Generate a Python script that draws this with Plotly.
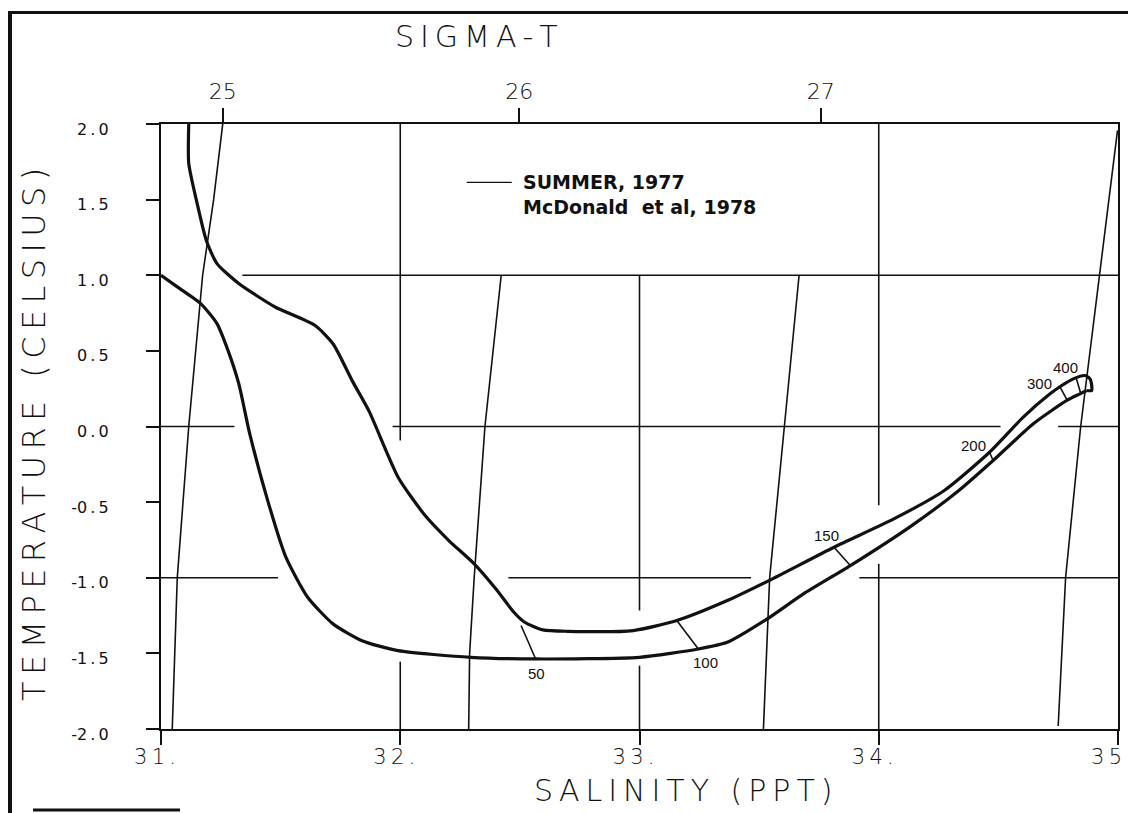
import plotly.graph_objects as go

# --- data (salinity ppt, temperature C) ---
upper_sal = [31.116, 31.116, 31.151, 31.189, 31.234, 31.325, 31.477, 31.643, 31.719,
             31.80, 31.87, 31.991, 32.104, 32.203, 32.309, 32.40, 32.475, 32.52,
             32.596, 32.70, 32.974, 33.156, 33.367, 33.541, 33.813, 34.063, 34.274,
             34.463, 34.604, 34.716, 34.765, 34.813, 34.862, 34.883, 34.890, 34.890, 34.869]
upper_temp = [2.0, 1.74, 1.475, 1.232, 1.077, 0.945, 0.79, 0.669, 0.547,
              0.30, 0.10, -0.335, -0.589, -0.754, -0.908, -1.074, -1.228, -1.294,
              -1.345, -1.354, -1.349, -1.283, -1.151, -1.019, -0.798, -0.611, -0.423,
              -0.170, 0.062, 0.216, 0.271, 0.315, 0.337, 0.315, 0.271, 0.238, 0.238]

lower_sal = [31.0, 31.068, 31.166, 31.234, 31.28, 31.325, 31.371, 31.446, 31.522,
             31.613, 31.719, 31.84, 31.991, 32.294, 32.566, 33.0, 33.246, 33.367,
             33.534, 33.685, 33.881, 34.138, 34.335, 34.478, 34.646, 34.786, 34.841, 34.869]
lower_temp = [1.0, 0.923, 0.812, 0.68, 0.503, 0.283, -0.049, -0.49, -0.864,
              -1.129, -1.305, -1.416, -1.482, -1.526, -1.537, -1.526, -1.471, -1.427,
              -1.272, -1.107, -0.92, -0.655, -0.423, -0.225, 0.018, 0.172, 0.216, 0.238]

# depth marks (m): end on upper curve, end on lower curve, label spot
depth_labels = ["50", "100", "150", "200", "300", "400"]
depth_sal_a = [32.505, 33.156, 33.813, 34.463, 34.758, 34.825]
depth_temp_a = [-1.316, -1.283, -0.798, -0.170, 0.260, 0.322]
depth_sal_b = [32.566, 33.246, 33.881, 34.478, 34.788, 34.844]
depth_temp_b = [-1.537, -1.471, -0.919, -0.225, 0.172, 0.220]
depth_label_sal = [32.569, 33.277, 33.783, 34.395, 34.671, 34.779]
depth_label_temp = [-1.636, -1.559, -0.721, -0.126, 0.282, 0.388]

# sigma-t isopycnals
sigma_labels = ["25", "26", "27"]
sigma_tick_sal = [31.258, 32.497, 33.758]
iso_sal = [
    [31.258, 31.22, 31.174, 31.116, 31.068, 31.047],
    [32.422, 32.354, 32.309, 32.29, 32.286],
    [33.667, 33.605, 33.544, 33.518],
    [34.998, 34.883, 34.844, 34.781, 34.75],
]
iso_temp = [
    [2.0, 1.5, 1.0, 0.0, -1.0, -2.0],
    [1.0, 0.0, -1.0, -1.5, -2.0],
    [1.0, 0.0, -1.0, -2.0],
    [1.958, 0.503, 0.0, -1.0, -1.98],
]

# broken grid lines: (temp, sal_from, sal_to) and (sal, temp_from, temp_to)
hgrid = [(1.0, 31.34, 35.0), (0.0, 31.0, 31.307), (0.0, 31.968, 34.509), (0.0, 34.75, 35.0),
         (-1.0, 31.0, 31.489), (-1.0, 32.452, 33.466), (-1.0, 33.919, 35.0)]
vgrid = [(32.0, 2.0, -0.093), (32.0, -1.555, -2.0), (33.0, 1.0, -1.217), (33.0, -1.581, -2.0),
         (34.0, 2.0, -0.52), (34.0, -0.908, -2.0)]

sal_ticks = [31, 32, 33, 34, 35]
sal_ticktext = ["3\u20091\u2009.", "3\u20092\u2009.", "3\u20093\u2009.", "3\u20094\u2009.",
                "3\u20095\u2009."]
temp_ticks = [-2.0, -1.5, -1.0, -0.5, 0.0, 0.5, 1.0, 1.5, 2.0]
temp_ticktext = ["-2\u2009.\u20090", "-1\u2009.\u20095", "-1\u2009.\u20090", "-0\u2009.\u20095",
                 "0\u2009.\u20090", "0\u2009.\u20095", "1\u2009.\u20090", "1\u2009.\u20095",
                 "2\u2009.\u20090"]

# the page body adds an 8px margin, so the figure is shrunk and shifted to fit
OFF = 8
W, H = 1136 - OFF, 813 - OFF
ML, MR, MT, MB = 161 - OFF, 18, 124 - OFF, 84
PW, PH = W - ML - MR, H - MT - MB
INK = "#111111"
PLOTTER = dict(family="DejaVu Sans", color=INK, weight=300)


def px_x(px):
    return (px - OFF - ML) / PW


def px_y(py):
    return (H - MB - (py - OFF)) / PH


def spaced(s):
    return "\u2009".join(s)


fig = go.Figure()

gx, gy = [], []
for t, s0, s1 in hgrid:
    gx += [s0, s1, None]
    gy += [t, t, None]
for s, t0, t1 in vgrid:
    gx += [s, s, None]
    gy += [t0, t1, None]
fig.add_trace(go.Scatter(x=gx, y=gy, mode="lines", line=dict(color=INK, width=1.6),
                         hoverinfo="skip", showlegend=False))

for xs, ys in zip(iso_sal, iso_temp):
    fig.add_trace(go.Scatter(x=xs, y=ys, mode="lines", line=dict(color=INK, width=1.6),
                             hoverinfo="skip", showlegend=False))

for xs, ys in [(upper_sal, upper_temp), (lower_sal, lower_temp)]:
    fig.add_trace(go.Scatter(x=xs, y=ys, mode="lines",
                             line=dict(color=INK, width=3.2, shape="spline", smoothing=0.6),
                             name="SUMMER, 1977", showlegend=False))

dx, dy = [], []
for a, b, c, d in zip(depth_sal_a, depth_temp_a, depth_sal_b, depth_temp_b):
    dx += [a, c, None]
    dy += [b, d, None]
fig.add_trace(go.Scatter(x=dx, y=dy, mode="lines", line=dict(color=INK, width=1.6),
                         hoverinfo="skip", showlegend=False))

# legend sample line
fig.add_trace(go.Scatter(x=[32.278, 32.466], y=[1.614, 1.614], mode="lines",
                         line=dict(color=INK, width=1.4), hoverinfo="skip", showlegend=False))

# top sigma-t axis
fig.add_trace(go.Scatter(x=[31, 35], y=[None, None], xaxis="x2", showlegend=False,
                         hoverinfo="skip"))

annotations = []
for lab, s, t in zip(depth_labels, depth_label_sal, depth_label_temp):
    annotations.append(dict(x=s, y=t, xref="x", yref="y", text=lab, showarrow=False,
                            xanchor="center", yanchor="middle",
                            font=dict(family="Liberation Sans", size=15, color=INK)))
annotations += [
    dict(x=32.504, y=1.614, xref="x", yref="y", text="SUMMER, 1977", xanchor="left",
         yanchor="middle", showarrow=False,
         font=dict(family="DejaVu Sans", size=19, color=INK, weight="bold")),
    dict(x=32.504, y=1.448, xref="x", yref="y", text="McDonald  et al, 1978", xanchor="left",
         yanchor="middle", showarrow=False,
         font=dict(family="DejaVu Sans", size=19, color=INK, weight="bold")),
    dict(x=px_x(476), y=px_y(37), xref="paper", yref="paper", text=spaced("SIGMA-T"),
         xanchor="center", yanchor="middle", showarrow=False, font=dict(PLOTTER, size=30)),
    dict(x=px_x(683), y=px_y(790), xref="paper", yref="paper", text=spaced("SALINITY (PPT)"),
         xanchor="center", yanchor="middle", showarrow=False, font=dict(PLOTTER, size=30)),
    dict(x=px_x(34), y=px_y(435), xref="paper", yref="paper", textangle=-90,
         xanchor="center", yanchor="middle",
         text=spaced("TEMPERATURE (CELSIUS)"), showarrow=False, font=dict(PLOTTER, size=32)),
]

shapes = [
    dict(type="line", xref="paper", yref="paper", x0=px_x(10), x1=px_x(10),
         y0=px_y(11), y1=px_y(813), line=dict(color=INK, width=4)),
    dict(type="line", xref="paper", yref="paper", x0=px_x(8), x1=px_x(1136),
         y0=px_y(12.5), y1=px_y(12.5), line=dict(color=INK, width=3)),
    dict(type="line", xref="paper", yref="paper", x0=px_x(33), x1=px_x(180),
         y0=px_y(810), y1=px_y(810), line=dict(color=INK, width=3)),
]

fig.update_layout(
    width=W, height=H,
    margin=dict(l=ML, r=MR, t=MT, b=MB, autoexpand=False),
    paper_bgcolor="white", plot_bgcolor="white",
    showlegend=False,
    xaxis=dict(range=[31, 35], tickvals=sal_ticks, ticktext=sal_ticktext,
               ticks="outside", ticklen=14, tickwidth=2, tickcolor=INK,
               ticklabelstandoff=-6, ticklabelshift=-6, ticklabeloverflow="allow",
               automargin=False,
               showgrid=False, zeroline=False, showline=True, linewidth=2, linecolor=INK,
               mirror=True, tickfont=dict(PLOTTER, size=21)),
    xaxis2=dict(range=[31, 35], overlaying="x", side="top", tickvals=sigma_tick_sal,
                ticktext=sigma_labels, ticks="outside", ticklen=15, tickwidth=1.6,
                tickcolor=INK, showgrid=False, zeroline=False, showline=False,
                automargin=False, tickfont=dict(PLOTTER, size=22)),
    yaxis=dict(range=[-2, 2], tickvals=temp_ticks, ticktext=temp_ticktext,
               ticks="outside", ticklen=13, tickwidth=1.6, tickcolor=INK,
               ticklabelstandoff=34, ticklabelshift=5, automargin=False,
               showgrid=False, zeroline=False, showline=True, linewidth=2, linecolor=INK,
               mirror=True, tickfont=dict(family="DejaVu Sans", color=INK, size=16)),
    annotations=annotations,
    shapes=shapes,
)

fig.write_html("out.html")
